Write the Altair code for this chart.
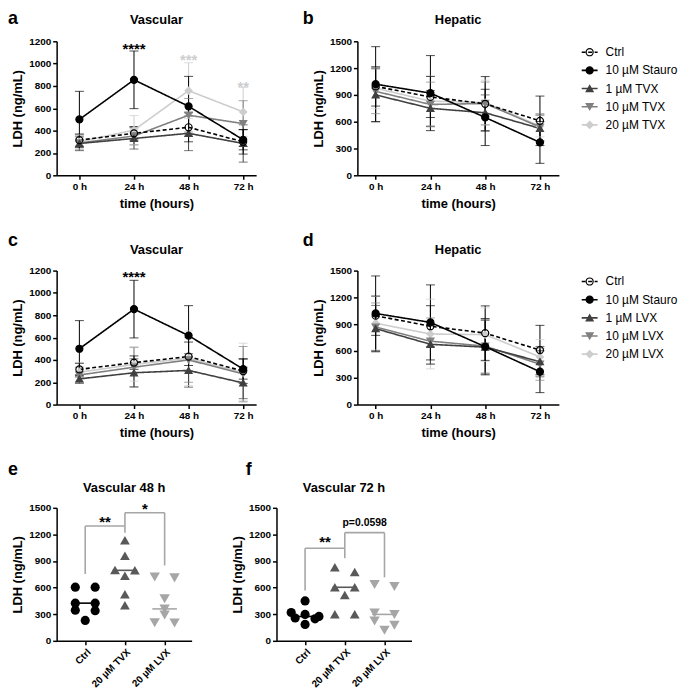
import json
import altair as alt
import pandas as pd

FONT = "Liberation Sans"

# ---------------- data ----------------
TIMES = [0, 24, 48, 72]

TVX_NAMES = ["Ctrl", "10 µM Stauro", "1 µM TVX", "10 µM TVX", "20 µM TVX"]
LVX_NAMES = ["Ctrl", "10 µM Stauro", "1 µM LVX", "10 µM LVX", "20 µM LVX"]

# Vascular (a, c)
VASC_CTRL = [315, 376, 430, 300]
VASC_CTRL_SD = [55, 60, 130, 110]
VASC_STAURO = [500, 855, 618, 318]
VASC_STAURO_SD = [252, 258, 268, 90]
VASC_TVX1 = [285, 330, 376, 285]
VASC_TVX1_SD = [60, 95, 155, 167]
VASC_TVX10 = [290, 352, 538, 463]
VASC_TVX10_SD = [70, 80, 150, 205]
VASC_TVX20 = [300, 405, 758, 568]
VASC_TVX20_SD = [65, 130, 250, 220]
VASC_LVX1 = [230, 285, 306, 194]
VASC_LVX1_SD = [40, 125, 150, 141]
VASC_LVX10 = [265, 335, 400, 275]
VASC_LVX10_SD = [70, 180, 200, 245]
VASC_LVX20 = [290, 360, 415, 285]
VASC_LVX20_SD = [85, 150, 245, 265]

# Hepatic (b, d)
HEP_CTRL = [995, 877, 800, 610]
HEP_CTRL_SD = [220, 230, 305, 277]
HEP_STAURO = [1020, 920, 648, 368]
HEP_STAURO_SD = [420, 420, 315, 234]
HEP_TVX1 = [900, 750, 700, 525]
HEP_TVX1_SD = [300, 200, 200, 150]
HEP_TVX10 = [940, 793, 804, 540]
HEP_TVX10_SD = [250, 250, 240, 150]
HEP_TVX20 = [975, 830, 815, 550]
HEP_TVX20_SD = [230, 280, 250, 120]
HEP_LVX1 = [850, 675, 643, 481]
HEP_LVX1_SD = [260, 220, 300, 170]
HEP_LVX10 = [868, 710, 654, 452]
HEP_LVX10_SD = [270, 260, 300, 180]
HEP_LVX20 = [911, 790, 783, 533]
HEP_LVX20_SD = [300, 390, 300, 195]

# significance marks on time courses
A_SIG_TEXT = ["****", "***", "**"]
A_SIG_SERIES = ["10 µM Stauro", "20 µM TVX", "20 µM TVX"]
A_SIG_TIME = [24, 48, 72]
A_SIG_Y = [1165, 1062, 818]
C_SIG_TEXT = ["****"]
C_SIG_SERIES = ["10 µM Stauro"]
C_SIG_TIME = [24]
C_SIG_Y = [1170]

# dot plots (e: 48 h, f: 72 h)
GROUPS = ["Ctrl", "20 µM TVX", "20 µM LVX"]
E_CTRL = [605, 605, 425, 425, 345, 340, 230]
E_TVX = [1135, 960, 800, 795, 735, 525, 400]
E_LVX = [720, 710, 475, 360, 290, 205, 200]
F_CTRL = [450, 320, 298, 275, 258, 248, 185]
F_TVX = [830, 775, 604, 604, 518, 300, 300]
F_LVX = [634, 612, 313, 298, 224, 176, 120]

E_BR_FROM = [0, 1]
E_BR_TO = [1, 2]
E_BR_TOP = [1295, 1444]
E_BR_LEFT_END = [753, 1295]
E_BR_RIGHT_END = [1220, 850]
E_BR_LABEL = ["**", "*"]
E_BR_LABEL_Y = [1380, 1530]

F_BR_FROM = [0, 1]
F_BR_TO = [1, 2]
F_BR_TOP = [1044, 1220]
F_BR_LEFT_END = [567, 1044]
F_BR_RIGHT_END = [932, 716]
F_BR_LABEL = ["**", "p=0.0598"]
F_BR_LABEL_Y = [1156, 1332]

# ---------------- styles ----------------
SERIES_COLORS = ["#000000", "#000000", "#404040", "#808080", "#cdcdcd"]
SERIES_FILLS = ["transparent", "#000000", "#404040", "#808080", "#cdcdcd"]
SERIES_SHAPES = ["circle", "circle", "triangle-up", "triangle-down", "diamond"]
SERIES_DASH = [[4, 2.5], [1, 0], [1, 0], [1, 0], [1, 0]]
DOT_COLORS = ["#000000", "#595959", "#a6a6a6"]
DOT_SHAPES = ["circle", "triangle-up", "triangle-down"]
BRACKET = "#a6a6a6"

INDEP = dict(color="independent", fill="independent", stroke="independent",
             shape="independent", strokeDash="independent", size="independent")


def swarm_offsets(values, thresh=60):
    order = sorted(range(len(values)), key=lambda i: -values[i])
    rows, cur = [], [order[0]]
    for i in order[1:]:
        if values[cur[0]] - values[i] < thresh:
            cur.append(i)
        else:
            rows.append(cur)
            cur = [i]
    rows.append(cur)
    offs = [0.0] * len(values)
    for row in rows:
        n = len(row)
        step = 0.5 if n <= 2 else 0.35
        for k, i in enumerate(row):
            offs[i] = (k - (n - 1) / 2) * step
    return offs


def text_layer(s, x, y, size, align="left", weight="bold"):
    return alt.Chart(pd.DataFrame({"s": [s]})).mark_text(
        align=align, baseline="middle", fontSize=size, fontWeight=weight,
        font=FONT, color="black"
    ).encode(text="s:N", x=alt.value(x), y=alt.value(y))


def tc_panel(names, means, sds, ymax, ystep, xdomain, width, letter, letter_x,
             letter_y, title, sig=None, legend=False, height=135):
    rows = []
    for order, (name, m, s) in enumerate(zip(names, means, sds)):
        for t, mv, sv in zip(TIMES, m, s):
            rows.append({"series": name, "t": t, "mean": mv, "lo": mv - sv,
                         "hi": mv + sv, "order": order})
    df = pd.DataFrame(rows).sort_values("order", ascending=False)

    xs = alt.Scale(domain=xdomain, nice=False, zero=False)
    ys = alt.Scale(domain=[0, ymax], nice=False)
    x_axis = alt.Axis(values=TIMES, labelExpr="datum.value + ' h'",
                      title="time (hours)", titlePadding=6)
    y_axis = alt.Axis(values=list(range(0, ymax + 1, ystep)), format="d",
                      title="LDH (ng/mL)", titlePadding=4)

    def X(f):
        return alt.X(f, type="quantitative", scale=xs, axis=x_axis)

    def Y(f):
        return alt.Y(f, type="quantitative", scale=ys, axis=y_axis)

    color = alt.Color("series:N", scale=alt.Scale(domain=names, range=SERIES_COLORS), legend=None)
    stroke = alt.Stroke("series:N", scale=alt.Scale(domain=names, range=SERIES_COLORS), legend=None)
    fill = alt.Fill("series:N", scale=alt.Scale(domain=names, range=SERIES_FILLS), legend=None)
    shape = alt.Shape("series:N", scale=alt.Scale(domain=names, range=SERIES_SHAPES), legend=None)
    dash = alt.StrokeDash("series:N", scale=alt.Scale(domain=names, range=SERIES_DASH), legend=None)

    base = alt.Chart(df)
    bars = base.mark_rule(strokeWidth=1).encode(x=X("t"), y=Y("lo"), y2="hi:Q", color=color)
    caps = base.transform_fold(["lo", "hi"], as_=["k", "v"]).mark_tick(
        orient="horizontal", size=9, thickness=1
    ).encode(x=X("t"), y=Y("v"), color=color)
    lines = base.mark_line(strokeWidth=1.6).encode(x=X("t"), y=Y("mean"), color=color, strokeDash=dash)
    pts = base.mark_point(filled=True, size=50, strokeWidth=1.2, opacity=1).encode(
        x=X("t"), y=Y("mean"), shape=shape, fill=fill, stroke=stroke)
    layers = [bars, caps, lines, pts]

    if sig is not None:
        sdf = pd.DataFrame({"label": sig[0], "series": sig[1], "t": sig[2], "y": sig[3]})
        layers.append(alt.Chart(sdf).mark_text(
            fontSize=15, fontWeight="bold", font=FONT, baseline="middle", dy=3.5
        ).encode(x=X("t"), y=Y("y"), text="label:N", color=color))

    layers.append(text_layer(letter, letter_x, letter_y, 18))
    layers.append(text_layer(title, width / 2, -21, 13, align="center"))

    if legend:
        ldf = pd.DataFrame({"series": names, "order": list(range(len(names)))})
        lbase = alt.Chart(ldf).transform_calculate(ly="11 + datum.order * 18.3")
        ly = alt.Y("ly:Q", scale=None, axis=None)
        layers.append(lbase.mark_rule(strokeWidth=1.6).encode(
            x=alt.value(width + 23), x2=alt.value(width + 39), y=ly, color=color, strokeDash=dash))
        layers.append(lbase.mark_point(filled=True, size=50, strokeWidth=1.2, opacity=1).encode(
            x=alt.value(width + 31), y=ly, shape=shape, fill=fill, stroke=stroke))
        layers.append(lbase.mark_text(align="left", baseline="middle", fontSize=12,
                                      font=FONT, color="black").encode(
            x=alt.value(width + 47), y=ly, text="series:N"))

    return alt.layer(*layers).properties(width=width, height=height)


def dot_panel(ctrl, tvx, lvx, br, letter, letter_x, title, width=136, height=134):
    rows = []
    for gi, vals in enumerate([ctrl, tvx, lvx]):
        offs = swarm_offsets(vals)
        for v, o in zip(vals, offs):
            rows.append({"group": GROUPS[gi], "gi": gi, "xpos": gi + o, "v": v})
    df = pd.DataFrame(rows)

    xs = alt.Scale(domain=[-0.72, 2.68], nice=False, zero=False)
    ys = alt.Scale(domain=[0, 1500], nice=False)
    x_axis = alt.Axis(values=[0, 1, 2],
                      labelExpr=json.dumps(GROUPS, ensure_ascii=False) + "[datum.value]",
                      labelAngle=-45, labelOverlap=False, title=None)
    y_axis = alt.Axis(values=list(range(0, 1501, 300)), format="d",
                      title="LDH (ng/mL)", titlePadding=4)

    def X(f):
        return alt.X(f, type="quantitative", scale=xs, axis=x_axis)

    def Y(f):
        return alt.Y(f, type="quantitative", scale=ys, axis=y_axis)

    color = alt.Color("group:N", scale=alt.Scale(domain=GROUPS, range=DOT_COLORS), legend=None)
    shape = alt.Shape("group:N", scale=alt.Scale(domain=GROUPS, range=DOT_SHAPES), legend=None)
    size = alt.Size("group:N", scale=alt.Scale(domain=GROUPS, range=[85, 110, 110]), legend=None)

    base = alt.Chart(df)
    pts = base.mark_point(filled=True, opacity=1, strokeWidth=0).encode(
        x=X("xpos"), y=Y("v"), color=color, shape=shape, size=size)
    med = base.transform_aggregate(med="median(v)", groupby=["group", "gi"]).transform_calculate(
        m1="datum.gi - 0.31", m2="datum.gi + 0.31"
    ).mark_rule(strokeWidth=1.6).encode(x=X("m1"), x2="m2:Q", y=Y("med"), color=color)

    bdf = pd.DataFrame({"x1": br[0], "x2": br[1], "top": br[2], "lend": br[3],
                        "rend": br[4], "label": br[5], "ly": br[6]})
    bb = alt.Chart(bdf)
    hor = bb.mark_rule(color=BRACKET, strokeWidth=1.6).encode(x=X("x1"), x2="x2:Q", y=Y("top"))
    lleg = bb.mark_rule(color=BRACKET, strokeWidth=1.6).encode(x=X("x1"), y=Y("top"), y2="lend:Q")
    rleg = bb.mark_rule(color=BRACKET, strokeWidth=1.6).encode(x=X("x2"), y=Y("top"), y2="rend:Q")
    lab_base = bb.transform_calculate(xm="(datum.x1 + datum.x2) / 2")
    stars = lab_base.transform_filter("test(/^[*]+$/, datum.label)").mark_text(
        fontSize=15, fontWeight="bold", font=FONT, baseline="middle", dy=3.5, color="black"
    ).encode(x=X("xm"), y=Y("ly"), text="label:N")
    other = lab_base.transform_filter("!test(/^[*]+$/, datum.label)").mark_text(
        fontSize=10.5, fontWeight="bold", font=FONT, baseline="middle", color="black"
    ).encode(x=X("xm"), y=Y("ly"), text="label:N")

    layers = [hor, lleg, rleg, stars, other, med, pts,
              text_layer(letter, letter_x, -38, 18),
              text_layer(title, width / 2, -20, 13, align="center")]
    return alt.layer(*layers).properties(width=width, height=height)


a = tc_panel(TVX_NAMES,
             [VASC_CTRL, VASC_STAURO, VASC_TVX1, VASC_TVX10, VASC_TVX20],
             [VASC_CTRL_SD, VASC_STAURO_SD, VASC_TVX1_SD, VASC_TVX10_SD, VASC_TVX20_SD],
             1200, 200, [-10, 77.7], 201, "a", -49, -22, "Vascular",
             sig=(A_SIG_TEXT, A_SIG_SERIES, A_SIG_TIME, A_SIG_Y))
b = tc_panel(TVX_NAMES,
             [HEP_CTRL, HEP_STAURO, HEP_TVX1, HEP_TVX10, HEP_TVX20],
             [HEP_CTRL_SD, HEP_STAURO_SD, HEP_TVX1_SD, HEP_TVX10_SD, HEP_TVX20_SD],
             1500, 300, [-8, 80.3], 203, "b", -55, -22, "Hepatic", legend=True)
c = tc_panel(LVX_NAMES,
             [VASC_CTRL, VASC_STAURO, VASC_LVX1, VASC_LVX10, VASC_LVX20],
             [VASC_CTRL_SD, VASC_STAURO_SD, VASC_LVX1_SD, VASC_LVX10_SD, VASC_LVX20_SD],
             1200, 200, [-10, 77.7], 201, "c", -49, -30, "Vascular",
             sig=(C_SIG_TEXT, C_SIG_SERIES, C_SIG_TIME, C_SIG_Y))
d = tc_panel(LVX_NAMES,
             [HEP_CTRL, HEP_STAURO, HEP_LVX1, HEP_LVX10, HEP_LVX20],
             [HEP_CTRL_SD, HEP_STAURO_SD, HEP_LVX1_SD, HEP_LVX10_SD, HEP_LVX20_SD],
             1500, 300, [-8, 80.3], 203, "d", -55, -30, "Hepatic", legend=True)
e = dot_panel(E_CTRL, E_TVX, E_LVX,
              (E_BR_FROM, E_BR_TO, E_BR_TOP, E_BR_LEFT_END, E_BR_RIGHT_END, E_BR_LABEL, E_BR_LABEL_Y),
              "e", -49, "Vascular 48 h")
f = dot_panel(F_CTRL, F_TVX, F_LVX,
              (F_BR_FROM, F_BR_TO, F_BR_TOP, F_BR_LEFT_END, F_BR_RIGHT_END, F_BR_LABEL, F_BR_LABEL_Y),
              "f", -31, "Vascular 72 h")

row1 = alt.hconcat(a, b, spacing=47).resolve_scale(**INDEP)
row2 = alt.hconcat(c, d, spacing=47).resolve_scale(**INDEP)
row3 = alt.hconcat(e, f, spacing=39.5).resolve_scale(**INDEP)

chart = alt.vconcat(row1, row2, row3, spacing=22).resolve_scale(**INDEP).properties(
    padding=0
).configure_view(stroke=None).configure_axis(
    domainColor="black", domainWidth=1.5, tickColor="black", tickWidth=1.5,
    tickSize=4, labelFont=FONT, labelFontSize=10, labelFontWeight="bold",
    labelColor="black", labelPadding=2, labelFlush=False, titleFont=FONT,
    titleFontSize=13, titleFontWeight="bold", titleColor="black", grid=False
)

chart.save("out.html", embed_options={"renderer": "svg", "actions": False})
